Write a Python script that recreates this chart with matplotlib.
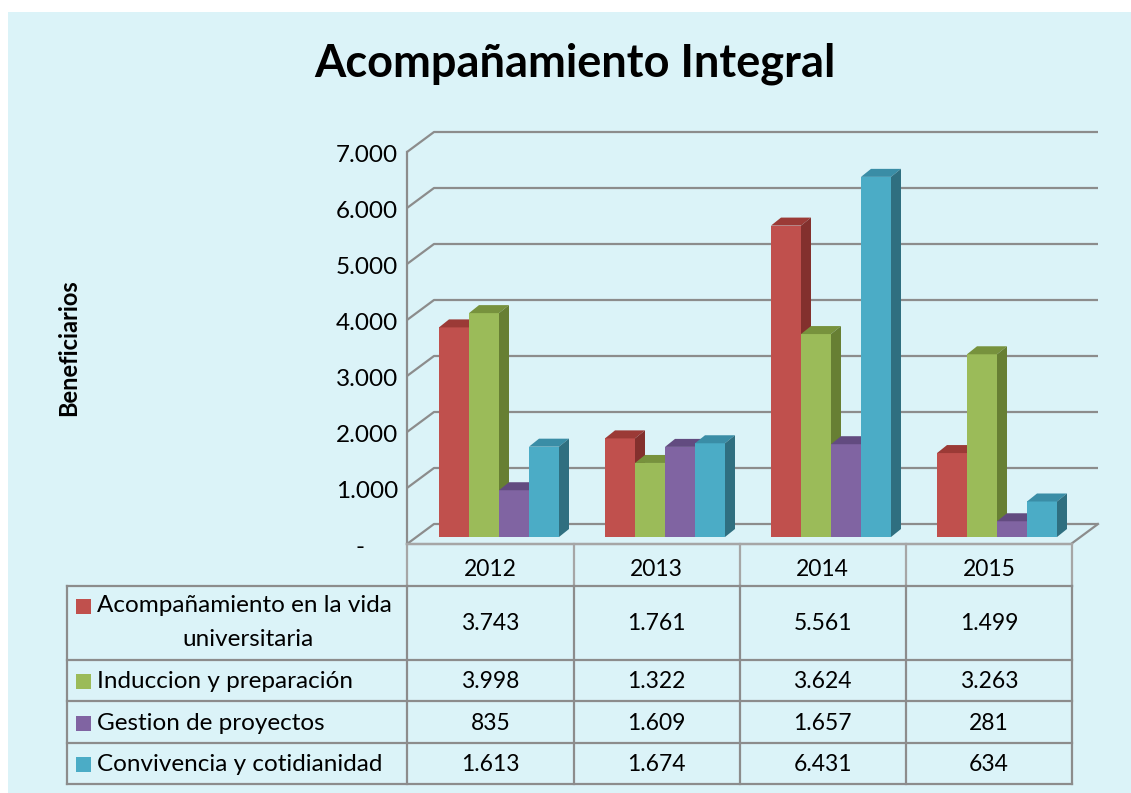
import matplotlib
matplotlib.use('Agg')
import matplotlib.pyplot as plt
from matplotlib.patches import Polygon, Rectangle

plt.rcParams['font.family'] = ['Lato', 'DejaVu Sans']

# data
years = ['2012', '2013', '2014', '2015']
series_names = ['Acompañamiento en la vida', 'Induccion y preparación',
                'Gestion de proyectos', 'Convivencia y cotidianidad']
acompanamiento = [3743, 1761, 5561, 1499]
induccion = [3998, 1322, 3624, 3263]
gestion = [835, 1609, 1657, 281]
convivencia = [1613, 1674, 6431, 634]
ytick_values = [0, 1000, 2000, 3000, 4000, 5000, 6000, 7000]
ytick_labels = ['-', '1.000', '2.000', '3.000', '4.000', '5.000', '6.000', '7.000']

series = [acompanamiento, induccion, gestion, convivencia]
front_colors = ['#C0504D', '#9BBB59', '#8064A2', '#4BACC6']
top_colors = ['#9B3A36', '#77923D', '#624B80', '#3A8DA6']
side_colors = ['#83302D', '#677F33', '#554170', '#2F6F80']

W, H = 1131, 793
BG = '#DBF3F8'
GRID = '#8C8C8C'


def fig_rect(x0, y0, x1, y1):
    return [x0 / W, 1 - y1 / H, (x1 - x0) / W, (y1 - y0) / H]


fig = plt.figure(figsize=(W / 100, H / 100), dpi=100)
fig.patch.set_facecolor('white')
fig.patches.append(Rectangle((8 / W, 0), 1 - 8 / W, 1 - 12 / H, transform=fig.transFigure,
                             facecolor=BG, edgecolor='none', zorder=-10))

fig.text(575 / W, 1 - 64 / H, 'Acompañamiento Integral', ha='center', va='center',
         fontsize=32.5, fontweight='bold')
fig.text(69 / W, 1 - 348 / H, 'Beneficiarios', ha='center', va='center', rotation=90,
         fontsize=17, fontweight='bold')

# chart axes: one category = 166 px, 1000 units = 56 px
CAT = 166.0
PXV = 0.056
DX = 27 / CAT          # depth of the wall
DY = 20 / PXV
ax = fig.add_axes(fig_rect(407, 132, 1099, 544))
ax.set_xlim(0, 692 / CAT)
ax.set_ylim(0, 412 / PXV)
ax.axis('off')

for v in ytick_values:
    ax.plot([0, DX, 4 + DX], [v, v + DY, v + DY], color=GRID, lw=1.6,
            solid_capstyle='butt', clip_on=False, zorder=1)
ax.plot([0, 0], [0, 7000], color=GRID, lw=1.6, clip_on=False, zorder=1)
ax.plot([0, 4, 4 + DX], [0, 0, DY], color=GRID, lw=1.6, clip_on=False, zorder=1)

shift = 3 / PXV
for v, lab in zip(ytick_values, ytick_labels):
    if v == 0:
        ax.text(-47 / CAT, v - shift, lab, ha='center', va='center', fontsize=17.5)
    else:
        ax.text(-9 / CAT, v - shift, lab, ha='right', va='center', fontsize=17.5)

# 3D-looking bars
bw = 30 / CAT
ox, oy = 9 / CAT, 7 / PXV
ddx, ddy = 10 / CAT, 8 / PXV
for s, vals in enumerate(series):
    for c, v in enumerate(vals):
        x = c + 0.5 - 2 * bw + ox + s * bw
        top = oy + v
        ax.bar(x, v, bw, bottom=oy, align='edge', color=front_colors[s], zorder=3 + s)
        ax.add_patch(Polygon([(x, top), (x + bw, top), (x + bw + ddx, top + ddy), (x + ddx, top + ddy)],
                             closed=True, facecolor=top_colors[s], edgecolor='none', zorder=3 + s))
        ax.add_patch(Polygon([(x + bw, oy), (x + bw, top), (x + bw + ddx, top + ddy), (x + bw + ddx, oy + ddy)],
                             closed=True, facecolor=side_colors[s], edgecolor='none', zorder=3 + s))

# data table
tax = fig.add_axes(fig_rect(67, 544, 1072, 786))
left = -340 / CAT
tax.set_xlim(left, 4)
tax.set_ylim(242, 0)
tax.axis('off')
rows = [0, 42, 116, 157, 199, 240]
LIGHT = '#A6A6A6'

tax.plot([0, 4], [0, 0], color=LIGHT, lw=1.6, clip_on=False)
for c in range(5):
    tax.plot([c, c], [0, rows[1]], color=LIGHT, lw=1.6, clip_on=False)
    tax.plot([c, c], [rows[1], rows[-1]], color=GRID, lw=1.6, clip_on=False)
tax.plot([left, left], [rows[1], rows[-1]], color=GRID, lw=1.6, clip_on=False)
for r in rows[1:]:
    tax.plot([left, 4], [r, r], color=GRID, lw=1.6, clip_on=False)

for c, yr in enumerate(years):
    tax.text(c + 0.5, 26, yr, ha='center', va='center', fontsize=16.5)

sq = 15 / CAT
for s, vals in enumerate(series):
    r0, r1 = rows[s + 1], rows[s + 2]
    yc = (r0 + r1) / 2 + 1
    for c, v in enumerate(vals):
        tax.text(c + 0.5, yc, f'{v:,}'.replace(',', '.'), ha='center', va='center', fontsize=16.5)
    ly = yc if s > 0 else r0 + 20
    tax.add_patch(Rectangle((-331 / CAT, ly - 7.5), sq, 15, facecolor=front_colors[s],
                            edgecolor='none', clip_on=False))
    tax.text(-310 / CAT, ly, series_names[s], ha='left', va='center', fontsize=17.5)
    if s == 0:
        tax.text(-159 / CAT, r0 + 53, 'universitaria', ha='center', va='center', fontsize=17.5)

fig.savefig('out.png', dpi=100, facecolor=fig.get_facecolor())
